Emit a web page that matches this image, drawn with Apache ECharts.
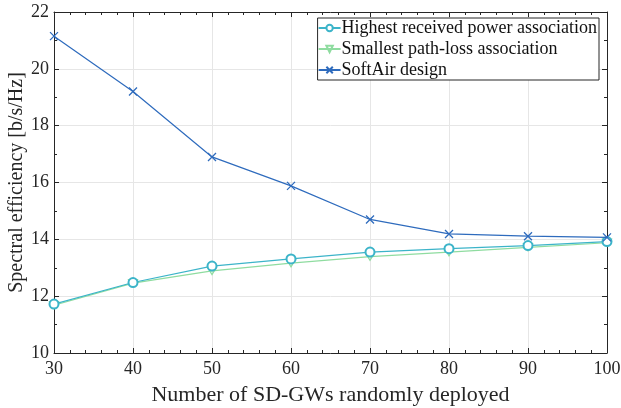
<!DOCTYPE html>
<html><head><meta charset="utf-8">
<script src="https://cdn.jsdelivr.net/npm/echarts@6/dist/echarts.min.js"></script>
<style>html,body{margin:0;padding:0;background:#fff}#c{width:621px;height:408px}</style>
</head><body><div id="c"></div>
<script>
const categories = [30, 40, 50, 60, 70, 80, 90, 100];
const highestPower = [11.72, 12.48, 13.06, 13.31, 13.55, 13.67, 13.78, 13.92];
const smallestPathLoss = [11.68, 12.46, 12.89, 13.16, 13.39, 13.55, 13.72, 13.88];
const softAir = [21.15, 19.2, 16.9, 15.88, 14.7, 14.19, 14.11, 14.07];
const seriesNames = ['Highest received power association', 'Smallest path-loss association', 'SoftAir design'];

const FONT = 'Liberation Serif';
const crossPath = 'path://M0,0L10,10M10,0L0,10';
const triPath = 'path://M0,0L10,0L5,9Z';
const axisColor = '#262626';

function pairs(arr){ return arr.map((v,i)=>[categories[i], v]); }

const chart = echarts.init(document.getElementById('c'));
const baseX = {
  type: 'value', min: 30, max: 100, interval: 10,
  axisLine: {show: true, lineStyle: {color: axisColor, width: 1}},
  axisTick: {show: true, inside: true, length: 5, lineStyle: {color: axisColor}},
  minorTick: {show: true, splitNumber: 5, length: 3, lineStyle: {color: axisColor}},
};
const baseY = {
  type: 'value', min: 10, max: 22, interval: 2,
  axisLine: {show: true, lineStyle: {color: axisColor, width: 1}},
  axisTick: {show: true, inside: true, length: 5, lineStyle: {color: axisColor}},
  minorTick: {show: true, splitNumber: 2, length: 3, lineStyle: {color: axisColor}},
};
chart.setOption({
  animation: false,
  backgroundColor: '#fff',
  grid: {left: 54, right: 14, top: 12, bottom: 55, outerBoundsMode: 'none', containLabel: false},
  xAxis: [
    Object.assign({}, baseX, {
      position: 'bottom',
      name: 'Number of SD-GWs randomly deployed', nameLocation: 'middle', nameGap: 31,
      nameMoveOverlap: false,
      nameTextStyle: {fontFamily: FONT, fontSize: 22, color: '#262626'},
      axisLabel: {fontFamily: FONT, fontSize: 18, color: '#262626', margin: 7},
      splitLine: {show: true, lineStyle: {color: '#e6e6e6', width: 1}},
    }),
    Object.assign({}, baseX, {
      position: 'top', axisLabel: {show: false}, splitLine: {show: false}
    })
  ],
  yAxis: [
    Object.assign({}, baseY, {
      position: 'left',
      name: 'Spectral efficiency [b/s/Hz]', nameLocation: 'middle', nameGap: 27,
      nameMoveOverlap: false,
      nameTextStyle: {fontFamily: FONT, fontSize: 20, color: '#262626'},
      axisLabel: {fontFamily: FONT, fontSize: 18, color: '#262626', margin: 5},
      splitLine: {show: true, lineStyle: {color: '#e6e6e6', width: 1}},
    }),
    Object.assign({}, baseY, {
      position: 'right', axisLabel: {show: false}, splitLine: {show: false}
    })
  ],
  legend: {
    show: true, orient: 'vertical', right: 22, top: 18,
    backgroundColor: '#fff', borderColor: '#262626', borderWidth: 1,
    padding: [1, 2, 1, 0], itemGap: 3, itemWidth: 22, itemHeight: 8,
    textStyle: {fontFamily: FONT, fontSize: 18, color: '#111', padding: [0,0,0,-4]},
    data: seriesNames
  },
  series: [
    {
      name: seriesNames[0], type: 'line', data: pairs(highestPower),
      symbol: 'emptyCircle', symbolSize: 9,
      lineStyle: {color: '#3cb4c9', width: 1.2},
      itemStyle: {color: '#3cb4c9', borderColor: '#3cb4c9', borderWidth: 1.2}, z: 3
    },
    {
      name: seriesNames[1], type: 'line', data: pairs(smallestPathLoss),
      symbol: triPath, symbolSize: [9, 8], symbolKeepAspect: true,
      lineStyle: {color: '#8fdca0', width: 1.2},
      itemStyle: {color: 'rgba(0,0,0,0)', borderColor: '#8fdca0', borderWidth: 1.2}, z: 2
    },
    {
      name: seriesNames[2], type: 'line', data: pairs(softAir),
      symbol: crossPath, symbolSize: 8,
      lineStyle: {color: '#2e6bbd', width: 1.2},
      itemStyle: {color: '#2e6bbd', borderColor: '#2e6bbd', borderWidth: 1.3}, z: 4
    }
  ]
});
</script></body></html>
